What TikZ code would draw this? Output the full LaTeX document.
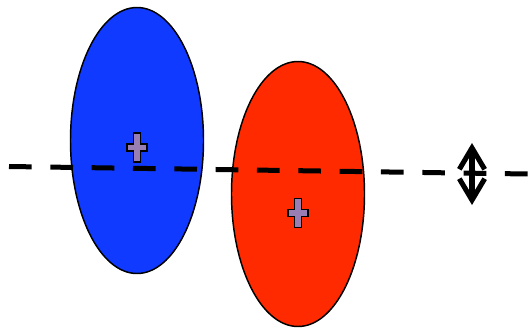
\documentclass[tikz,border=0pt]{standalone}
\usepackage{tikz}
\usetikzlibrary{arrows.meta}
\definecolor{blobBlue}{RGB}{16,58,255}
\definecolor{blobRed}{RGB}{255,42,0}
\definecolor{centreMark}{RGB}{152,126,178}
\tikzset{
    blob/.style={draw=black, line width=1.1pt},
    axisLine/.style={draw=black, line width=3.75pt, dash pattern=on 17pt off 14pt},
    centreCross/.style={draw=black, fill=centreMark, line width=1.3pt},
    shiftArrow/.style={draw=black, line width=3.8pt,
        {Straight Barb[length=16pt, width=19pt]}-{Straight Barb[length=16pt, width=19pt]}}
}
% cross at the centre of a blob
\newcommand{\crossAt}[2]{%
    \draw[centreCross] (#1-3.5,#2-14.5) -- (#1+3.5,#2-14.5) -- (#1+3.5,#2-3.5)
        -- (#1+10,#2-3.5) -- (#1+10,#2+3.5) -- (#1+3.5,#2+3.5) -- (#1+3.5,#2+14.5)
        -- (#1-3.5,#2+14.5) -- (#1-3.5,#2+3.5) -- (#1-10,#2+3.5) -- (#1-10,#2-3.5)
        -- (#1-3.5,#2-3.5) -- cycle;}

\begin{document}
\begin{tikzpicture}[x=0.75pt, y=-0.75pt]
    \useasboundingbox (0,0) rectangle (528,329);

    \filldraw[blob, fill=blobBlue] (137,140.5) ellipse [x radius=66.5, y radius=133];
    \filldraw[blob, fill=blobRed] (298,194) ellipse [x radius=66.5, y radius=132.5];

    \draw[axisLine] (9,166.5) -- (528,174);

    \crossAt{137}{147.5}
    \crossAt{298}{213}

    \coordinate (arrowTop) at (472,143);
    \coordinate (arrowBottom) at (472,205);
    \draw[shiftArrow] (arrowBottom) -- (arrowTop);
\end{tikzpicture}
\end{document}
